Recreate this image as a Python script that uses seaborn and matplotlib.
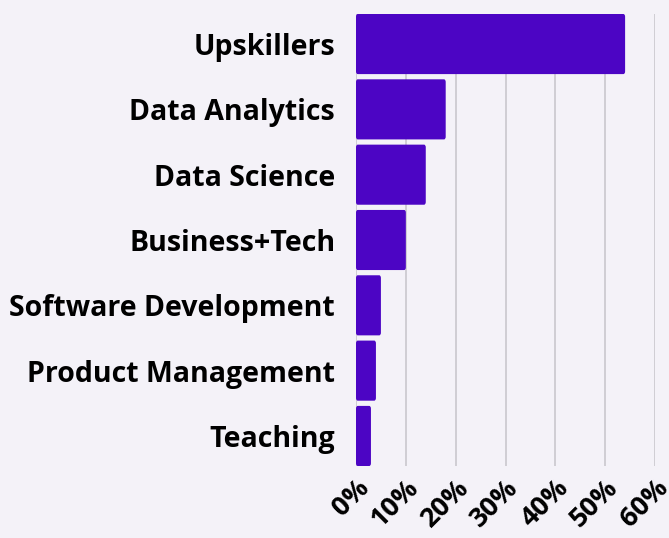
import matplotlib
matplotlib.use("Agg")
import matplotlib.pyplot as plt
import matplotlib.transforms as mtransforms
import seaborn as sns
import pandas as pd
from matplotlib.patches import FancyBboxPatch

categories = ["Upskillers", "Data Analytics", "Data Science", "Business+Tech",
              "Software Development", "Product Management", "Teaching"]
values = [54, 18, 14, 10, 5, 4, 3]
xticks = [0, 10, 20, 30, 40, 50, 60]
xtick_labels = ["0%", "10%", "20%", "30%", "40%", "50%", "60%"]

bg = "#f4f2f8"
bar_color = "#4c05c4"

sns.set_theme(style="white")
plt.rcParams['font.family'] = ['Open Sans', 'DejaVu Sans']

df = pd.DataFrame({"cat": categories, "val": values})

fig = plt.figure(figsize=(6.69, 5.38), dpi=100)
fig.patch.set_facecolor(bg)
ax = fig.add_axes([356/669, 1-466/538, (655-356)/669, (466-14)/538])
ax.set_facecolor(bg)

sns.barplot(data=df, x="val", y="cat", orient="h", color=bar_color,
            width=0.92, saturation=1, ax=ax, zorder=3)

# rounded corners
for p in list(ax.patches):
    x, y = p.get_x(), p.get_y()
    w, h = p.get_width(), p.get_height()
    p.set_visible(False)
    fb = FancyBboxPatch((x, y), w, h,
                        boxstyle="round,pad=0,rounding_size=0.35",
                        mutation_aspect=0.12,
                        facecolor=bar_color, edgecolor="none", zorder=3)
    ax.add_patch(fb)

ax.set_xlim(0, 60)
ax.set_ylim(6.46, -0.46)
ax.set_xticks(xticks)
ax.set_xticklabels(xtick_labels, rotation=45, ha="right", va="top",
                   rotation_mode="anchor", fontsize=19.5, fontweight="bold")
offset = mtransforms.ScaledTranslation(12/100, -20/100, fig.dpi_scale_trans)
for lbl in ax.get_xticklabels():
    lbl.set_transform(lbl.get_transform() + offset)
    lbl.set_color("#000000")
ax.tick_params(axis="x", length=0, pad=6)
ax.tick_params(axis="y", length=0, pad=15)
for lbl in ax.get_yticklabels():
    lbl.set_fontsize(20.5)
    lbl.set_fontweight("bold")
    lbl.set_color("#000000")
ax.set_xlabel("")
ax.set_ylabel("")
ax.grid(axis="x", color="#c9c7cd", linewidth=1.2, zorder=0)
ax.set_axisbelow(True)
for s in ax.spines.values():
    s.set_visible(False)

fig.savefig("out.png", dpi=100, facecolor=bg)
